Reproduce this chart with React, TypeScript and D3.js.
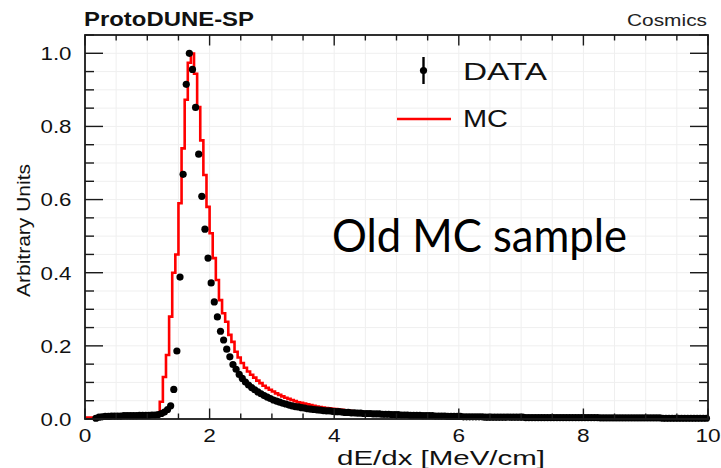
import React from "react";
import * as d3 from "d3";

// Histogram binning (dE/dx in MeV/cm)
const X_MIN = 0;
const X_MAX = 10;
const BIN_WIDTH = 0.05;

// DATA (black points), one value per 0.05 bin from 0 to 10
const dataValues: number[] = [
  0, 0, 0, 0.002, 0.005, 0.006, 0.007, 0.007, 0.008, 0.008,
  0.008, 0.008, 0.009, 0.009, 0.009, 0.009, 0.009, 0.01, 0.01, 0.01,
  0.01, 0.011, 0.011, 0.012, 0.015, 0.019, 0.026, 0.036, 0.081, 0.186,
  0.388, 0.669, 0.915, 1.0, 0.956, 0.852, 0.724, 0.609, 0.519, 0.44,
  0.372, 0.32, 0.279, 0.24, 0.216, 0.191, 0.17, 0.149, 0.136, 0.122,
  0.111, 0.101, 0.093, 0.086, 0.08, 0.074, 0.069, 0.064, 0.06, 0.056,
  0.052, 0.049, 0.046, 0.043, 0.041, 0.038, 0.036, 0.034, 0.033, 0.031,
  0.03, 0.028, 0.027, 0.026, 0.025, 0.024, 0.023, 0.022, 0.022, 0.021,
  0.02, 0.02, 0.019, 0.018, 0.018, 0.017, 0.017, 0.016, 0.016, 0.015,
  0.015, 0.015, 0.014, 0.014, 0.014, 0.013, 0.013, 0.013, 0.012, 0.012,
  0.012, 0.011, 0.011, 0.011, 0.01, 0.01, 0.01, 0.01, 0.009, 0.009,
  0.009, 0.009, 0.008, 0.008, 0.008, 0.008, 0.007, 0.007, 0.007, 0.007,
  0.007, 0.006, 0.006, 0.006, 0.006, 0.006, 0.006, 0.006, 0.005, 0.005,
  0.005, 0.005, 0.005, 0.005, 0.005, 0.005, 0.005, 0.005, 0.005, 0.005,
  0.005, 0.004, 0.004, 0.004, 0.004, 0.004, 0.004, 0.004, 0.004, 0.004,
  0.004, 0.004, 0.004, 0.004, 0.004, 0.004, 0.004, 0.004, 0.004, 0.004,
  0.004, 0.004, 0.004, 0.004, 0.004, 0.003, 0.003, 0.003, 0.003, 0.003,
  0.003, 0.003, 0.003, 0.003, 0.003, 0.003, 0.003, 0.003, 0.003, 0.003,
  0.003, 0.003, 0.003, 0.003, 0.003, 0.002, 0.002, 0.002, 0.002, 0.002,
  0.002, 0.002, 0.002, 0.002, 0.002, 0.002, 0.002, 0.002, 0.002, 0.002,
];

// MC (red histogram), one value per 0.05 bin from 0 to 10
const mcValues: number[] = [
  0.004, 0.004, 0.004, 0.005, 0.006, 0.006, 0.007, 0.007, 0.007, 0.007,
  0.008, 0.008, 0.008, 0.008, 0.008, 0.008, 0.009, 0.009, 0.009, 0.009,
  0.009, 0.01, 0.01, 0.012, 0.047, 0.115, 0.175, 0.28, 0.4, 0.45,
  0.59, 0.74, 0.873, 0.974, 0.999, 0.944, 0.853, 0.762, 0.667, 0.58,
  0.508, 0.44, 0.38, 0.325, 0.289, 0.266, 0.23, 0.211, 0.184, 0.168,
  0.153, 0.14, 0.13, 0.121, 0.113, 0.105, 0.098, 0.091, 0.085, 0.08,
  0.075, 0.07, 0.066, 0.062, 0.058, 0.055, 0.052, 0.049, 0.046, 0.044,
  0.042, 0.04, 0.038, 0.036, 0.034, 0.033, 0.031, 0.03, 0.029, 0.028,
  0.027, 0.026, 0.025, 0.024, 0.023, 0.022, 0.021, 0.02, 0.019, 0.018,
  0.017, 0.017, 0.016, 0.015, 0.015, 0.014, 0.014, 0.013, 0.013, 0.012,
  0.012, 0.011, 0.011, 0.01, 0.01, 0.01, 0.009, 0.009, 0.009, 0.009,
  0.008, 0.008, 0.008, 0.008, 0.008, 0.007, 0.007, 0.007, 0.007, 0.007,
  0.006, 0.006, 0.006, 0.006, 0.006, 0.006, 0.006, 0.005, 0.005, 0.005,
  0.005, 0.005, 0.005, 0.005, 0.005, 0.005, 0.005, 0.005, 0.005, 0.004,
  0.004, 0.004, 0.004, 0.004, 0.004, 0.004, 0.004, 0.004, 0.004, 0.004,
  0.004, 0.004, 0.004, 0.004, 0.004, 0.004, 0.004, 0.004, 0.004, 0.004,
  0.004, 0.004, 0.003, 0.003, 0.003, 0.003, 0.003, 0.003, 0.003, 0.003,
  0.003, 0.003, 0.003, 0.003, 0.003, 0.003, 0.003, 0.003, 0.003, 0.003,
  0.003, 0.003, 0.003, 0.002, 0.002, 0.002, 0.002, 0.002, 0.002, 0.002,
  0.002, 0.002, 0.002, 0.002, 0.002, 0.002, 0.002, 0.002, 0.002, 0.002,
];

const xTicks = [0, 2, 4, 6, 8, 10];
const xTickLabels = ["0", "2", "4", "6", "8", "10"];
const yTicks = [0, 0.2, 0.4, 0.6, 0.8, 1.0];
const yTickLabels = ["0.0", "0.2", "0.4", "0.6", "0.8", "1.0"];

const titleText = "ProtoDUNE-SP";
const cornerText = "Cosmics";
const xTitle = "dE/dx [MeV/cm]";
const yTitle = "Arbitrary Units";
const legendLabels = ["DATA", "MC"];
const noteText = "Old MC sample";

const ROOT_FONT = "'Liberation Sans', Arial, Helvetica, sans-serif";
const RED = "#ff0000";
const AXIS = "#1a1a1a";

export default function App() {
  const W = 721;
  const H = 468;
  const x = d3.scaleLinear().domain([X_MIN, X_MAX]).range([85, 708]);
  const y = d3.scaleLinear().domain([0, 1.05]).range([419, 35]);

  const [x0, x1] = x.range();
  const [yB, yT] = y.range();

  // MC step histogram
  const mcPts: [number, number][] = mcValues.map((v, i) => [X_MIN + i * BIN_WIDTH, v]);
  mcPts.push([X_MAX, mcValues[mcValues.length - 1]]);
  const stepLine = d3
    .line<[number, number]>()
    .x((d) => x(d[0]))
    .y((d) => y(d[1]))
    .curve(d3.curveStepAfter);
  const mcPath = stepLine(mcPts) || "";

  // data points (bin centers)
  const dataPts = dataValues
    .map((v, i) => ({ cx: X_MIN + (i + 0.5) * BIN_WIDTH, v }))
    .filter((d) => d.v > 0);

  const xMinor = d3.range(X_MIN, X_MAX + 0.001, 0.5);
  const yMinor = d3.range(0, 1.051, 0.05);

  return (
    <svg
      width={W}
      height={H}
      viewBox={`0 0 ${W} ${H}`}
      style={{ position: "absolute", left: 0, top: 0, background: "#fff" }}
    >
      <rect x={0} y={0} width={W} height={H} fill="#fff" />

      {/* faint grid */}
      <g stroke="#efefef" strokeWidth={1}>
        {xMinor.map((t, i) => (
          <line key={"gx" + i} x1={x(t)} x2={x(t)} y1={yT} y2={yB} />
        ))}
        {yMinor.map((t, i) => (
          <line key={"gy" + i} x1={x0} x2={x1} y1={y(t)} y2={y(t)} />
        ))}
      </g>

      {/* MC histogram */}
      <path d={mcPath} fill="none" stroke={RED} strokeWidth={2.6} strokeLinejoin="miter" />

      {/* DATA points */}
      <g fill="#000">
        {dataPts.map((d, i) => (
          <circle key={"p" + i} cx={x(d.cx)} cy={y(d.v)} r={3.6} />
        ))}
      </g>

      {/* frame */}
      <rect x={x0} y={yT} width={x1 - x0} height={yB - yT} fill="none" stroke={AXIS} strokeWidth={1.8} />

      {/* ticks */}
      <g stroke={AXIS} strokeWidth={1.4}>
        {xMinor.map((t, i) => {
          const major = xTicks.includes(Math.round(t * 100) / 100);
          const len = major ? 10.5 : 5.5;
          return (
            <g key={"xt" + i}>
              <line x1={x(t)} x2={x(t)} y1={yB} y2={yB - len} />
              <line x1={x(t)} x2={x(t)} y1={yT} y2={yT + len} />
            </g>
          );
        })}
        {yMinor.map((t, i) => {
          const major = i % 4 === 0;
          const len = major ? 18 : 9;
          return (
            <g key={"yt" + i}>
              <line x1={x0} x2={x0 + len} y1={y(t)} y2={y(t)} />
              <line x1={x1} x2={x1 - len} y1={y(t)} y2={y(t)} />
            </g>
          );
        })}
      </g>

      {/* tick labels */}
      <g fontFamily={ROOT_FONT} fontSize={18.5} fill="#111">
        {yTicks.map((t, i) => (
          <text
            key={"yl" + i}
            x={71.5}
            y={y(t) + 6.8}
            textAnchor="end"
            textLength={31}
            lengthAdjust="spacingAndGlyphs"
          >
            {yTickLabels[i]}
          </text>
        ))}
        {xTicks.map((t, i) => (
          <text
            key={"xl" + i}
            x={x(t)}
            y={441.5}
            textAnchor="middle"
            textLength={xTickLabels[i].length * 12.6}
            lengthAdjust="spacingAndGlyphs"
          >
            {xTickLabels[i]}
          </text>
        ))}
      </g>

      {/* axis titles */}
      <text
        x={545}
        y={465}
        textAnchor="end"
        fontFamily={ROOT_FONT}
        fontSize={20}
        fill="#111"
        textLength={208}
        lengthAdjust="spacingAndGlyphs"
      >
        {xTitle}
      </text>
      <text
        transform="translate(30,297) rotate(-90)"
        x={0}
        y={0}
        textAnchor="start"
        fontFamily={ROOT_FONT}
        fontSize={19}
        fill="#111"
        textLength={133}
        lengthAdjust="spacingAndGlyphs"
      >
        {yTitle}
      </text>

      {/* header */}
      <text
        x={84}
        y={25.5}
        fontFamily={ROOT_FONT}
        fontWeight="bold"
        fontSize={20.5}
        fill="#111"
        textLength={170}
        lengthAdjust="spacingAndGlyphs"
      >
        {titleText}
      </text>
      <text
        x={707}
        y={25.5}
        textAnchor="end"
        fontFamily={ROOT_FONT}
        fontSize={17}
        fill="#222"
        textLength={80}
        lengthAdjust="spacingAndGlyphs"
      >
        {cornerText}
      </text>

      {/* legend */}
      <g>
        <line x1={423.5} x2={423.5} y1={57} y2={84} stroke="#000" strokeWidth={2.4} />
        <circle cx={423.5} cy={70.5} r={3.6} fill="#000" />
        <text
          x={463}
          y={79.5}
          fontFamily={ROOT_FONT}
          fontSize={24}
          fill="#111"
          textLength={84}
          lengthAdjust="spacingAndGlyphs"
        >
          {legendLabels[0]}
        </text>
        <line x1={397} x2={451} y1={119} y2={119} stroke={RED} strokeWidth={2.6} />
        <text
          x={463}
          y={126.5}
          fontFamily={ROOT_FONT}
          fontSize={24}
          fill="#111"
          textLength={45}
          lengthAdjust="spacingAndGlyphs"
        >
          {legendLabels[1]}
        </text>
      </g>

      {/* slide annotation */}
      <text
        x={332}
        y={252}
        fontFamily="Lato, 'Open Sans', sans-serif"
        fontSize={46}
        fill="#000"
        textLength={295}
        lengthAdjust="spacingAndGlyphs"
      >
        {noteText}
      </text>
    </svg>
  );
}
